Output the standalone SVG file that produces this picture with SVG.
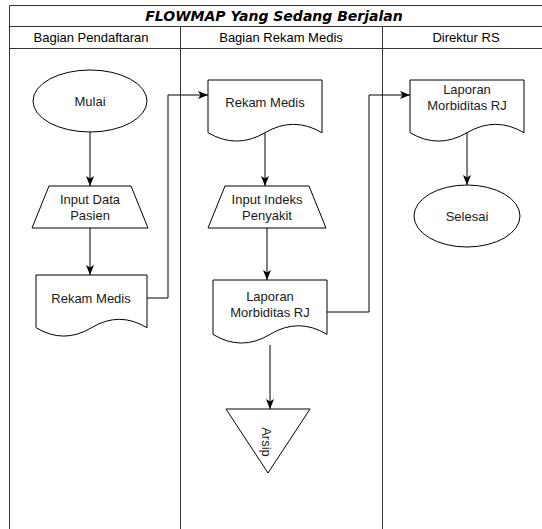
<svg xmlns="http://www.w3.org/2000/svg" width="542" height="529" viewBox="0 0 542 529">
<style>
.lane{fill:none;stroke:#333;stroke-width:1}
.shape{fill:#fff;stroke:#000;stroke-width:1}
.lbl{font-family:"Liberation Sans",Arial,sans-serif;font-size:13px;fill:#1a1a1a;text-anchor:middle}
.hdr{font-family:"Liberation Sans",Arial,sans-serif;font-size:13px;fill:#000;text-anchor:middle}
.title{font-family:"DejaVu Sans",Verdana,sans-serif;font-size:14px;font-weight:bold;font-style:italic;fill:#000;text-anchor:middle}
.edge{fill:none;stroke:#000;stroke-width:1;marker-end:url(#arr)}
</style>
<defs>
<marker id="arr" markerUnits="userSpaceOnUse" markerWidth="10" markerHeight="8" refX="10" refY="4" orient="auto">
<path d="M0,0 L10,4 L0,8 L2.5,4 Z" fill="#000"/>
</marker>
</defs>
<rect width="542" height="529" fill="#fff"/>
<g id="pool">
<path class="lane" d="M9.5,529 V5.5 H560 M9.5,26.5 H560 M9.5,48.5 H560 M180.5,26.5 V529 M382.5,26.5 V529"/>
<text class="title" x="274" y="21">FLOWMAP Yang Sedang Berjalan</text>
<text class="hdr" x="91" y="42">Bagian Pendaftaran</text>
<text class="hdr" x="281" y="42">Bagian Rekam Medis</text>
<text class="hdr" x="466" y="42">Direktur RS</text>
</g>
<g id="connectors">
<path class="edge" d="M90,132 V186"/>
<path class="edge" d="M90,228 V275"/>
<path class="edge" d="M147,298 H168 V95 H208"/>
<path class="edge" d="M265,133 V186"/>
<path class="edge" d="M267,228 V280"/>
<path class="edge" d="M327,312 H369 V95 H410"/>
<path class="edge" d="M467,133 V185"/>
<path class="edge" d="M270,345 V409"/>
</g>
<g id="mulai">
<ellipse class="shape" cx="90" cy="101" rx="57" ry="31"/>
<text class="lbl" x="90" y="106">Mulai</text>
</g>
<g id="input-data-pasien">
<path class="shape" d="M49,186 H131 L148,228 H32 Z"/>
<text class="lbl" x="90" y="204">Input Data</text>
<text class="lbl" x="90" y="220">Pasien</text>
</g>
<g id="rekam-medis-1">
<path class="shape" d="M36,275 L147,275 L147,327.7 Q119.25,310.96 91.5,327.7 Q63.75,344.44 36,327.7 Z"/>
<text class="lbl" x="91" y="303">Rekam Medis</text>
</g>
<g id="rekam-medis-2">
<path class="shape" d="M208,80 L322,80 L322,132.7 Q293.5,115.96 265,132.7 Q236.5,149.44 208,132.7 Z"/>
<text class="lbl" x="265" y="107">Rekam Medis</text>
</g>
<g id="input-indeks-penyakit">
<path class="shape" d="M225,186 H309 L326,228 H208 Z"/>
<text class="lbl" x="267" y="204">Input Indeks</text>
<text class="lbl" x="267" y="220">Penyakit</text>
</g>
<g id="laporan-1">
<path class="shape" d="M213,280 L327,280 L327,334.4 Q298.5,317.12 270,334.4 Q241.5,351.68 213,334.4 Z"/>
<text class="lbl" x="270" y="301">Laporan</text>
<text class="lbl" x="270" y="317">Morbiditas RJ</text>
</g>
<g id="arsip">
<path class="shape" d="M226,409 H310 L268,473 Z"/>
<text class="lbl" transform="translate(262,442) rotate(90)" x="0" y="0">Arsip</text>
</g>
<g id="laporan-2">
<path class="shape" d="M410,80 L524,80 L524,132.7 Q495.5,115.96 467,132.7 Q438.5,149.44 410,132.7 Z"/>
<text class="lbl" x="467" y="94">Laporan</text>
<text class="lbl" x="467" y="110">Morbiditas RJ</text>
</g>
<g id="selesai">
<ellipse class="shape" cx="467" cy="216" rx="53" ry="31"/>
<text class="lbl" x="467" y="221">Selesai</text>
</g>
</svg>
